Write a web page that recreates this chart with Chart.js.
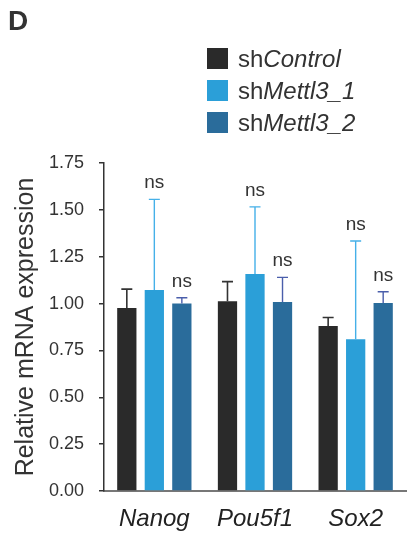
<!DOCTYPE html>
<html>
<head>
<meta charset="utf-8">
<script src="https://cdn.jsdelivr.net/npm/chart.js@4/dist/chart.umd.min.js"></script>
<style>
  body { margin: 0; background: #fff; font-family: "Liberation Sans", Arial, sans-serif; color: #333; }
  #wrap { position: relative; width: 408px; height: 535px; }
  #panel { position: absolute; left: 8px; top: 7px; font-size: 28px; font-weight: bold; line-height: 1; }
  .leg { position: absolute; left: 207px; height: 21px; font-size: 24px; line-height: 21px; white-space: nowrap; }
  .leg span.box { display: inline-block; width: 21px; height: 21px; vertical-align: top; margin-right: 10px; }
  .leg i { font-style: italic; }
</style>
</head>
<body>
<div id="wrap">
  <canvas id="chart" width="408" height="535"></canvas>
  <div id="panel">D</div>
  <div id="legend"></div>
</div>
<script>
document.addEventListener('DOMContentLoaded', function () {
    const genes = ['Nanog', 'Pou5f1', 'Sox2'];
    const seriesPrefix = ['sh', 'sh', 'sh'];
    const seriesNames = ['Control', 'Mettl3_1', 'Mettl3_2'];
    const barColors = ['#2a2a2a', '#2b9fd8', '#2a6c9b'];
    const errColors = ['#333333', '#45b0e8', '#4a5eab'];

    const controlMean = [0.976, 1.013, 0.880];
    const controlErr = [0.101, 0.104, 0.046];
    const mettl3_1Mean = [1.072, 1.158, 0.810];
    const mettl3_1Err = [0.484, 0.358, 0.524];
    const mettl3_2Mean = [1.001, 1.008, 1.003];
    const mettl3_2Err = [0.030, 0.132, 0.060];
    // significance label shown above each bar ('' = none)
    const mettl3_1Sig = ['ns', 'ns', 'ns'];
    const mettl3_2Sig = ['ns', 'ns', 'ns'];

    const yTicks = [0, 0.25, 0.5, 0.75, 1.0, 1.25, 1.5, 1.75];

    const means = [controlMean, mettl3_1Mean, mettl3_2Mean];
    const errs = [controlErr, mettl3_1Err, mettl3_2Err];
    const sigs = [[], mettl3_1Sig, mettl3_2Sig];

    // legend as html so the italic part can be set apart
    const legend = document.getElementById('legend');
    const legTops = [48, 80, 112];
    seriesNames.forEach(function (name, i) {
        const d = document.createElement('div');
        d.className = 'leg';
        d.style.top = legTops[i] + 'px';
        d.innerHTML = '<span class="box" style="background:' + barColors[i] + '"></span>' + seriesPrefix[i] + '<i>' + name + '</i>';
        legend.appendChild(d);
    });

    const errorBars = {
        id: 'errorBars',
        afterDatasetsDraw: function (chart) {
            const ctx = chart.ctx;
            const y = chart.scales.y;
            ctx.save();
            chart.data.datasets.forEach(function (ds, i) {
                const meta = chart.getDatasetMeta(i);
                meta.data.forEach(function (bar, j) {
                    const top = y.getPixelForValue(means[i][j] + errs[i][j]);
                    ctx.strokeStyle = errColors[i];
                    ctx.lineWidth = i === 0 ? 1.6 : 1.4;
                    ctx.beginPath();
                    ctx.moveTo(bar.x, bar.y);
                    ctx.lineTo(bar.x, top);
                    ctx.moveTo(bar.x - 5.5, top);
                    ctx.lineTo(bar.x + 5.5, top);
                    ctx.stroke();
                    const s = sigs[i][j];
                    if (s) {
                        ctx.fillStyle = '#333';
                        ctx.font = '19px "Liberation Sans", Arial, sans-serif';
                        ctx.textAlign = 'center';
                        ctx.textBaseline = 'alphabetic';
                        ctx.fillText(s, bar.x, top - 11);
                    }
                });
            });
            ctx.restore();
        }
    };

    const ctx = document.getElementById('chart').getContext('2d');
    new Chart(ctx, {
        type: 'bar',
        data: {
            labels: genes,
            datasets: seriesNames.map(function (name, i) {
                return {
                    label: seriesPrefix[i] + name,
                    data: means[i],
                    backgroundColor: barColors[i],
                    categoryPercentage: 0.82,
                    barPercentage: 0.7
                };
            })
        },
        options: {
            responsive: false,
            animation: false,
            layout: { padding: { top: 163, right: 2, left: 0, bottom: 0 } },
            plugins: {
                legend: { display: false },
                tooltip: { enabled: false }
            },
            scales: {
                x: {
                    grid: { display: false, drawTicks: false },
                    border: { display: true, color: '#777', width: 2 },
                    ticks: {
                        color: '#222',
                        padding: 14,
                        font: { family: '"Liberation Sans", Arial, sans-serif', size: 24, style: 'italic' }
                    },
                    afterFit: function (scale) { scale.height = 44; }
                },
                y: {
                    min: 0,
                    max: 1.75,
                    afterBuildTicks: function (scale) {
                        scale.ticks = yTicks.map(function (v) { return { value: v }; });
                    },
                    grid: { drawOnChartArea: false, drawTicks: true, tickLength: 5, color: '#333', lineWidth: 1.5 },
                    border: { display: true, color: '#333', width: 1.5 },
                    ticks: {
                        color: '#333',
                        padding: 15,
                        font: { family: '"Liberation Sans", Arial, sans-serif', size: 18 },
                        callback: function (v) { return Number(v).toFixed(2); }
                    },
                    title: {
                        display: true,
                        text: 'Relative mRNA expression',
                        color: '#333',
                        padding: { top: 11, bottom: 0 },
                        font: { family: '"Liberation Sans", Arial, sans-serif', size: 25 }
                    },
                    afterFit: function (scale) { scale.width = 104; }
                }
            }
        },
        plugins: [errorBars]
    });
});
</script>
</body>
</html>
